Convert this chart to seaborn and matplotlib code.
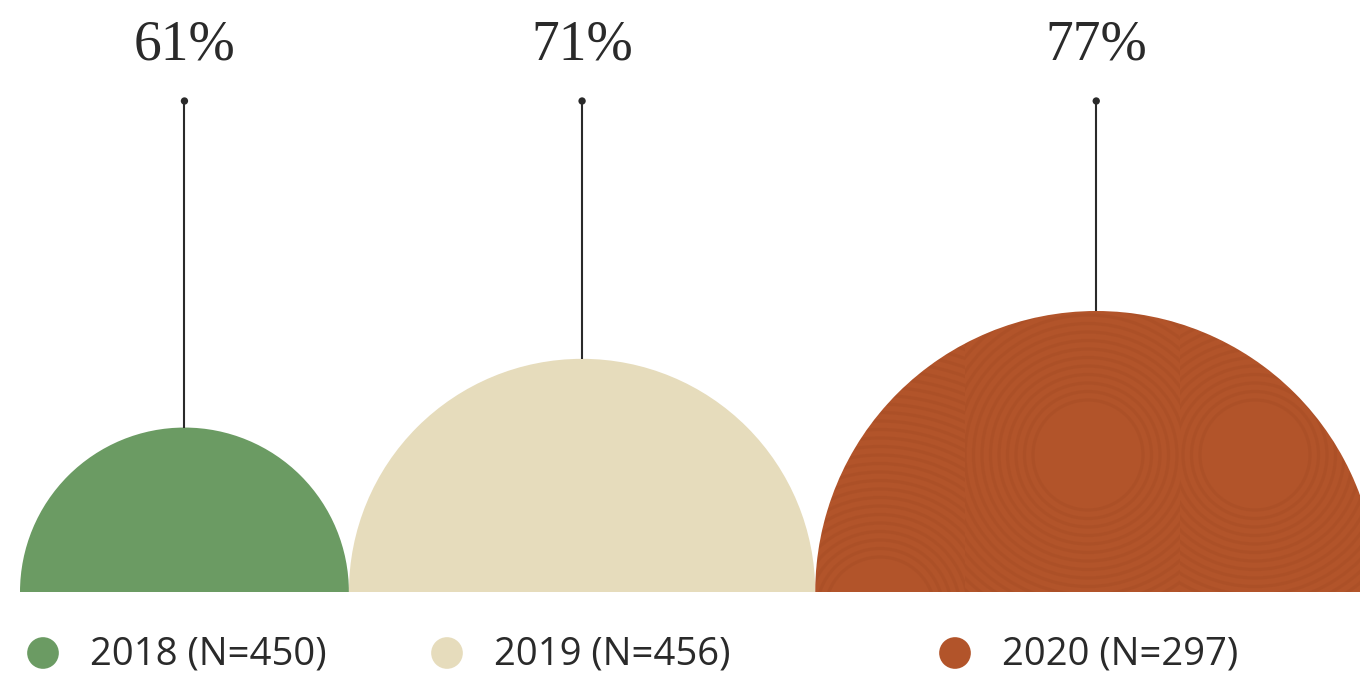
import numpy as np
import matplotlib
matplotlib.use("Agg")
import matplotlib.pyplot as plt
from matplotlib.patches import Wedge, Circle, PathPatch
from matplotlib.path import Path
import seaborn as sns
import pandas as pd

# Survey results by year
years = ["2018", "2019", "2020"]
sample_sizes = [450, 456, 297]
shares = [61, 71, 77]
colors = ["#6b9b63", "#e6dcbc", "#b2542a"]

sns.set_theme(style="white")
plt.rcParams["font.family"] = ["Open Sans", "DejaVu Sans"]

W, H = 1360, 675
fig = plt.figure(figsize=(W / 100, H / 100), dpi=100, facecolor="white")
ax = fig.add_axes([0, 0, 1, 1])
ax.set_xlim(0, W)
ax.set_ylim(H, 0)
ax.axis("off")

INK = "#2a2a2a"
BASE = 592          # baseline the half-discs sit on
STEM_TOP = 101      # height of the stem dots
R_MAX = 281         # radius of the largest half-disc
EXPONENT = 2.3      # power scale exaggerating the differences

radii = [R_MAX * (s / max(shares)) ** EXPONENT for s in shares]

# place the half-discs side by side, each touching the next
centers = []
x = 20
for r in radii:
    centers.append(x + r)
    x += 2 * r

df = pd.DataFrame({"year": years, "share": shares, "n": sample_sizes,
                   "cx": centers, "r": radii})


def strip_clip(cx, r, x0, x1):
    """Part of the half-disc between x0 and x1, as a clip patch."""
    x0, x1 = max(x0, cx - r), min(x1, cx + r)
    xs = np.linspace(x0, x1, 200)
    ys = BASE - np.sqrt(np.clip(r ** 2 - (xs - cx) ** 2, 0, None))
    verts = list(zip(xs, ys)) + [(x1, BASE), (x0, BASE), (xs[0], ys[0])]
    patch = PathPatch(Path(verts, closed=True), transform=ax.transData)
    return patch


for i, row in df.iterrows():
    wedge = Wedge((row.cx, BASE), row.r, 180, 360, facecolor=colors[i],
                  edgecolor="none", zorder=2)
    ax.add_patch(wedge)
    if i == 2:
        # engraved ring texture on the last half-disc, one ring set per strip
        ring_color = "#8a3b1a"
        zones = [((880, 612), (row.cx - row.r, 965)),
                 ((1088, 455), (965, 1180)),
                 ((1255, 455), (1180, row.cx + row.r))]
        for (rx, ry), (x0, x1) in zones:
            clip = strip_clip(row.cx, row.r, x0, x1)
            for rr in np.arange(55, 330, 8.5):
                ring = Circle((rx, ry), rr, fill=False, edgecolor=ring_color,
                              lw=2.4, alpha=0.13, zorder=3)
                ax.add_patch(ring)
                ring.set_clip_path(clip)

# stems from each half-disc up to its label
ax.vlines(df.cx, BASE - df.r, STEM_TOP, color=INK, lw=1.5, zorder=4)
sns.scatterplot(data=df, x="cx", y=[STEM_TOP] * 3, ax=ax, color=INK,
                s=28, edgecolor="none", legend=False, zorder=5)

for _, row in df.iterrows():
    ax.text(row.cx, 45, f"{row.share}%", ha="center", va="center",
            fontsize=40, color=INK, family=["Liberation Serif", "DejaVu Serif"])

# legend row
leg = pd.DataFrame({"year": years, "x": [43, 447, 955], "y": [653] * 3})
sns.scatterplot(data=leg, x="x", y="y", hue="year", palette=colors, ax=ax,
                s=520, edgecolor="none", legend=False, zorder=5)
for _, row in leg.iterrows():
    n = df.loc[df.year == row.year, "n"].iloc[0]
    ax.text(row.x + 47, row.y + 1, f"{row.year} (N={n})", ha="left",
            va="center", fontsize=27.5, color=INK)

ax.set_xlim(0, W)
ax.set_ylim(H, 0)
fig.savefig("out.png", dpi=100, facecolor="white")
